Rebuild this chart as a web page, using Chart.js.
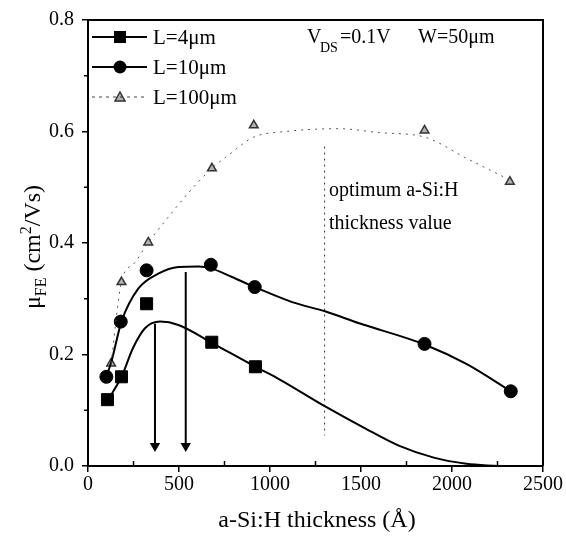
<!DOCTYPE html>
<html>
<head>
<meta charset="utf-8">
<script src="https://cdn.jsdelivr.net/npm/chart.js@4.4.1/dist/chart.umd.min.js"></script>
<style>
  body { margin: 0; background: #fff; }
  #wrap { width: 566px; height: 548px; }
</style>
</head>
<body>
<div id="wrap"><canvas id="mobilityChart" width="566" height="548"></canvas></div>
<script>
// measured points (thickness in Å, mobility in cm2/Vs)
let sq4X = [107, 184, 322, 680, 920];
let sq4Y = [0.119, 0.160, 0.291, 0.222, 0.178];

let c10X = [101, 180, 322, 675, 916, 1849, 2323];
let c10Y = [0.160, 0.259, 0.351, 0.361, 0.321, 0.219, 0.134];

let t100X = [127, 184, 331, 681, 911, 1849, 2318];
let t100Y = [0.184, 0.330, 0.401, 0.534, 0.611, 0.602, 0.510];

// fitted curves
let fit4X = [107, 135, 184, 248, 313, 396, 497, 680, 920, 1049, 1308, 1520, 1711, 1900, 2079, 2250];
let fit4Y = [0.119, 0.132, 0.160, 0.212, 0.247, 0.259, 0.253, 0.221, 0.178, 0.156, 0.106, 0.068, 0.036, 0.015, 0.004, 0.0];

let fit10X = [101, 129, 184, 276, 386, 497, 607, 680, 791, 916, 1122, 1306, 1490, 1849, 2079, 2323];
let fit10Y = [0.160, 0.188, 0.259, 0.318, 0.345, 0.357, 0.358, 0.354, 0.339, 0.321, 0.294, 0.277, 0.256, 0.218, 0.183, 0.134];

let fit100X = [127, 184, 258, 331, 386, 552, 681, 773, 911, 1086, 1380, 1600, 1849, 2079, 2318];
let fit100Y = [0.184, 0.330, 0.365, 0.401, 0.424, 0.490, 0.534, 0.558, 0.590, 0.600, 0.605, 0.598, 0.590, 0.552, 0.513];

// optimum line and the two arrows
let optX = [1300, 1300];
let optY = [0.573, 0.055];
let arrowAX = [368, 368];
let arrowAY = [0.255, 0.036];
let arrowBX = [537, 537];
let arrowBY = [0.348, 0.036];

let xTicks = [0, 500, 1000, 1500, 2000, 2500];
let yTicks = [0.0, 0.2, 0.4, 0.6, 0.8];

let legendLabels = ["L=4\u03bcm", "L=10\u03bcm", "L=100\u03bcm"];

const SERIF = "'Liberation Serif', 'DejaVu Serif', serif";

function pts(xs, ys) {
    return xs.map((x, i) => ({ x: x, y: ys[i] }));
}

// frame, minor ticks, legend and annotation text
const decorations = {
    id: 'decorations',
    afterDraw(chart) {
        let ctx = chart.ctx;
        let a = chart.chartArea;
        let xs = chart.scales.x;
        let ys = chart.scales.y;
        ctx.save();

        ctx.strokeStyle = '#000';
        ctx.lineWidth = 2;
        ctx.beginPath();
        ctx.moveTo(a.left, a.top);
        ctx.lineTo(a.right, a.top);
        ctx.lineTo(a.right, a.bottom);
        ctx.stroke();

        // minor ticks
        ctx.lineWidth = 1.5;
        for (let v = 250; v < 2500; v += 500) {
            let px = xs.getPixelForValue(v);
            ctx.beginPath();
            ctx.moveTo(px, a.bottom);
            ctx.lineTo(px, a.bottom - 5);
            ctx.stroke();
        }
        for (let v = 0.1; v < 0.8; v += 0.2) {
            let py = ys.getPixelForValue(v);
            ctx.beginPath();
            ctx.moveTo(a.left, py);
            ctx.lineTo(a.left - 4, py);
            ctx.stroke();
        }

        // legend
        let lx0 = 92, lx1 = 147, lmid = 120, ltext = 153;
        let rows = [37, 67, 97];
        ctx.font = '21px ' + SERIF;
        ctx.textBaseline = 'middle';
        ctx.textAlign = 'left';
        rows.forEach((ry, i) => {
            ctx.strokeStyle = i == 2 ? '#444' : '#000';
            ctx.fillStyle = '#000';
            ctx.lineWidth = i == 2 ? 1 : 2;
            ctx.setLineDash(i == 2 ? [3, 4] : []);
            ctx.beginPath();
            ctx.moveTo(lx0, ry);
            ctx.lineTo(lx1, ry);
            ctx.stroke();
            ctx.setLineDash([]);
            if (i == 0) {
                ctx.fillRect(lmid - 6, ry - 6, 12, 12);
            } else if (i == 1) {
                ctx.beginPath();
                ctx.arc(lmid, ry, 6.5, 0, Math.PI * 2);
                ctx.fill();
            } else {
                ctx.fillStyle = 'rgba(0,0,0,0.3)';
                ctx.strokeStyle = '#333';
                ctx.lineWidth = 1.5;
                ctx.beginPath();
                ctx.moveTo(lmid, ry - 5);
                ctx.lineTo(lmid + 5, ry + 4);
                ctx.lineTo(lmid - 5, ry + 4);
                ctx.closePath();
                ctx.fill();
                ctx.stroke();
            }
            ctx.fillStyle = '#000';
            ctx.fillText(legendLabels[i], ltext, ry + 1);
        });

        // V_DS and W
        ctx.font = '20px ' + SERIF;
        ctx.fillText('V', 307, 38);
        ctx.font = '14px ' + SERIF;
        ctx.fillText('DS', 320, 48);
        ctx.font = '20px ' + SERIF;
        ctx.fillText('=0.1V', 340, 38);
        ctx.fillText('W=50\u03bcm', 418, 38);

        // optimum text
        ctx.font = '20px ' + SERIF;
        ctx.fillText('optimum a-Si:H', 329, 191);
        ctx.fillText('thickness value', 329, 224);

        // x title
        ctx.font = '24px ' + SERIF;
        ctx.textAlign = 'center';
        ctx.fillText('a-Si:H thickness (\u00c5)', 317, 521);

        // y title with subscript
        ctx.translate(34, 247);
        ctx.rotate(-Math.PI / 2);
        ctx.textAlign = 'left';
        let p1 = '\u03bc', p2 = 'FE', p3 = ' (cm', p4 = '2', p5 = '/Vs)';
        let f1 = '24px ' + SERIF, f2 = '16px ' + SERIF;
        ctx.font = f1; let w1 = ctx.measureText(p1).width;
        ctx.font = f2; let w2 = ctx.measureText(p2).width;
        ctx.font = f1; let w3 = ctx.measureText(p3).width;
        ctx.font = f2; let w4 = ctx.measureText(p4).width;
        ctx.font = f1; let w5 = ctx.measureText(p5).width;
        let x = -(w1 + w2 + w3 + w4 + w5) / 2;
        ctx.font = f1; ctx.fillText(p1, x, 0); x += w1;
        ctx.font = f2; ctx.fillText(p2, x, 8); x += w2;
        ctx.font = f1; ctx.fillText(p3, x, 0); x += w3;
        ctx.font = f2; ctx.fillText(p4, x, -7); x += w4;
        ctx.font = f1; ctx.fillText(p5, x, 0);

        ctx.restore();
    }
};

let ctx = document.getElementById("mobilityChart").getContext('2d');

new Chart(ctx, {
    type: 'scatter',
    data: {
        datasets: [
            {
                label: 'fit L=100',
                data: pts(fit100X, fit100Y),
                showLine: true,
                borderColor: '#555',
                borderWidth: 1,
                borderDash: [2, 5],
                pointRadius: 0,
                cubicInterpolationMode: 'monotone'
            },
            {
                label: 'fit L=4',
                data: pts(fit4X, fit4Y),
                showLine: true,
                borderColor: '#000',
                borderWidth: 2,
                pointRadius: 0,
                cubicInterpolationMode: 'monotone'
            },
            {
                label: 'fit L=10',
                data: pts(fit10X, fit10Y),
                showLine: true,
                borderColor: '#000',
                borderWidth: 2,
                pointRadius: 0,
                cubicInterpolationMode: 'monotone'
            },
            {
                label: 'optimum',
                data: pts(optX, optY),
                showLine: true,
                borderColor: '#333',
                borderWidth: 1,
                borderDash: [2, 4],
                pointRadius: 0
            },
            {
                label: 'arrow 1',
                data: pts(arrowAX, arrowAY),
                showLine: true,
                borderColor: '#000',
                borderWidth: 2,
                pointRadius: [0, 4],
                pointStyle: 'triangle',
                rotation: 180,
                pointBackgroundColor: '#000',
                pointBorderColor: '#000'
            },
            {
                label: 'arrow 2',
                data: pts(arrowBX, arrowBY),
                showLine: true,
                borderColor: '#000',
                borderWidth: 2,
                pointRadius: [0, 4],
                pointStyle: 'triangle',
                rotation: 180,
                pointBackgroundColor: '#000',
                pointBorderColor: '#000'
            },
            {
                label: legendLabels[0],
                data: pts(sq4X, sq4Y),
                pointStyle: 'rect',
                pointRadius: 8.5,
                backgroundColor: '#000',
                borderColor: '#000'
            },
            {
                label: legendLabels[1],
                data: pts(c10X, c10Y),
                pointStyle: 'circle',
                pointRadius: 6.5,
                backgroundColor: '#000',
                borderColor: '#000'
            },
            {
                label: legendLabels[2],
                data: pts(t100X, t100Y),
                pointStyle: 'triangle',
                pointRadius: 5,
                backgroundColor: 'rgba(0,0,0,0.3)',
                borderColor: '#333',
                borderWidth: 1.5
            }
        ]
    },
    options: {
        responsive: false,
        animation: false,
        layout: { padding: { top: 15, right: 23, left: 0, bottom: 0 } },
        plugins: {
            legend: { display: false },
            tooltip: { enabled: false }
        },
        scales: {
            x: {
                type: 'linear',
                min: 0,
                max: 2500,
                afterBuildTicks: (s) => { s.ticks = xTicks.map(v => ({ value: v })); },
                afterFit: (s) => { s.height = 82; },
                ticks: {
                    color: '#000',
                    font: { family: SERIF, size: 20 },
                    padding: 1,
                    callback: (v) => String(v)
                },
                grid: { drawOnChartArea: false, color: '#000', lineWidth: 1.5, tickLength: 6 },
                border: { color: '#000', width: 2 }
            },
            y: {
                min: 0,
                max: 0.8,
                afterBuildTicks: (s) => { s.ticks = yTicks.map(v => ({ value: v })); },
                afterFit: (s) => { s.width = 88; },
                ticks: {
                    color: '#000',
                    font: { family: SERIF, size: 20 },
                    padding: 8,
                    callback: (v) => v.toFixed(1)
                },
                grid: { drawOnChartArea: false, color: '#000', lineWidth: 1.5, tickLength: 6 },
                border: { color: '#000', width: 2 }
            }
        }
    },
    plugins: [decorations]
});
</script>
</body>
</html>
